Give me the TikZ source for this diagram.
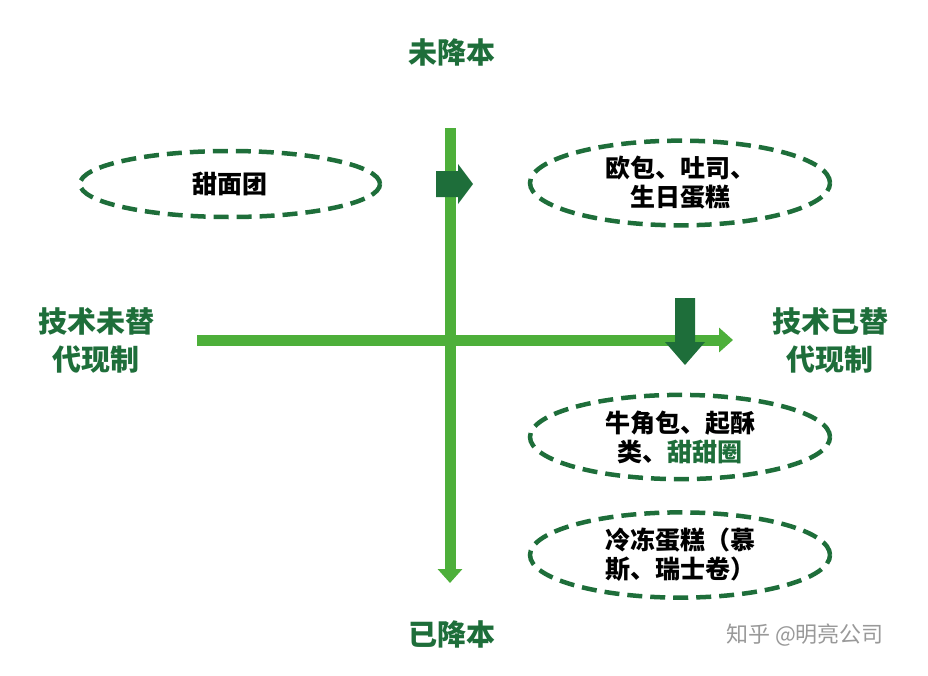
\documentclass[tikz,border=0pt]{standalone}
\usepackage{fontspec}
\setmainfont{Noto Sans CJK SC}[BoldFont={Noto Sans CJK SC Black}]
\usetikzlibrary{arrows.meta,shapes.geometric}
\definecolor{lg}{HTML}{4DAF3A}
\definecolor{dg}{HTML}{1E6E3A}
\begin{document}
\begin{tikzpicture}[x=1pt,y=-1pt,
  ell/.style={draw=dg,line width=4.5pt,dash pattern=on 15pt off 8pt,ellipse,minimum width=300pt,minimum height=66pt,align=center,font=\bfseries\fontsize{25}{29}\selectfont},
  axislab/.style={text=dg,align=center,font=\bfseries\fontsize{29}{38}\selectfont},
  axis/.style={lg,line width=11pt,-{Triangle[length=14pt,width=24pt]}},
  blk/.style={fill=dg}]
\useasboundingbox (0,0) rectangle (928,675);
\coordinate (vt) at (450,128); \coordinate (vb) at (450,583);
\coordinate (hl) at (197,340); \coordinate (hr) at (733,340);
\draw[axis] (vt) -- (vb);
\draw[axis] (hl) -- (hr);
\fill[blk] (436,171) -- (458,171) -- (458,164) -- (473,184) -- (458,204) -- (458,197) -- (436,197) -- cycle;
\fill[blk] (675,298) -- (695,298) -- (695,342) -- (705,342) -- (685,365) -- (665,342) -- (675,342) -- cycle;
\node[ell] (e1) at (230,184) {甜面团};
\node[ell] (e2) at (680,183) {欧包、吐司、\\生日蛋糕};
\node[ell] (e3) at (680,437) {牛角包、起酥\\类、\textcolor{dg}{甜甜圈}};
\node[ell] (e4) at (680,555) {冷冻蛋糕（慕\\斯、瑞士卷）};
\node[axislab] (t) at (452,52) {未降本};
\node[axislab] (b) at (452,634) {已降本};
\node[axislab] (l) at (96,340) {技术未替\\代现制};
\node[axislab] (r) at (830,340) {技术已替\\代现制};
\node[text=gray!80,font=\fontsize{22}{26}\selectfont] (w) at (805,635) {知乎 @明亮公司};
\end{tikzpicture}
\end{document}
